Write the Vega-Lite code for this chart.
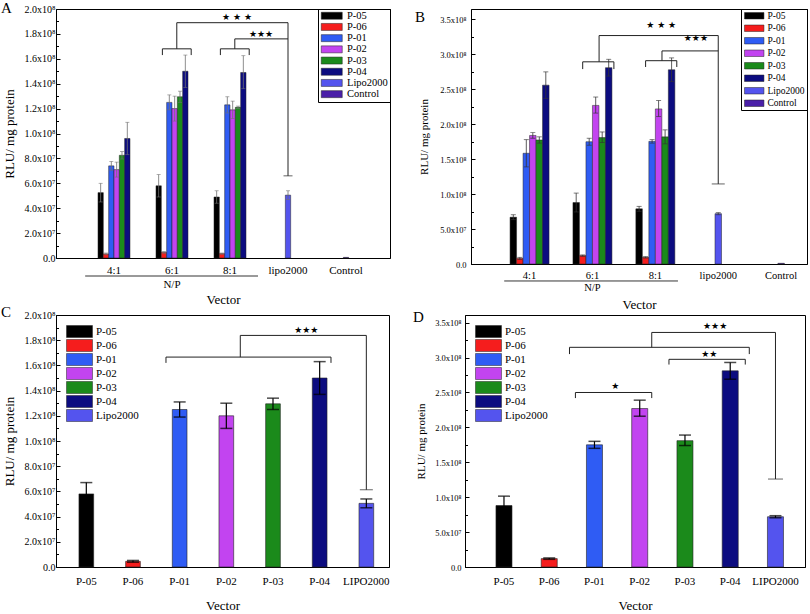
{
"$schema": "https://vega.github.io/schema/vega-lite/v6.json",
"padding": {"left": 0, "top": 0, "right": 0, "bottom": 0},
"background": "white",
"config": {
  "font": "Liberation Serif",
  "view": {"stroke": "#000", "strokeWidth": 1},
  "axis": {"labelFont": "Liberation Serif", "titleFont": "Liberation Serif", "labelColor": "#000", "titleColor": "#000", "domainColor": "#000", "tickColor": "#000", "titleFontWeight": "normal", "grid": false, "labelFontSize": 10, "titleFontSize": 13, "labelOverlap": false},
  "legend": {"labelFont": "Liberation Serif", "labelFontSize": 11, "labelColor": "#000"},
  "title": {"font": "Liberation Serif", "fontWeight": "normal", "fontSize": 15, "color": "#000"}
},
"datasets": {
  "A_np": [
    {"group":"4:1","series":"P-05","value":5.25e7,"lo":4.5e7,"hi":6.0e7},
    {"group":"4:1","series":"P-06","value":3.3e6,"lo":2.6e6,"hi":4.0e6},
    {"group":"4:1","series":"P-01","value":7.4e7,"lo":7.05e7,"hi":7.75e7},
    {"group":"4:1","series":"P-02","value":7.1e7,"lo":6.5e7,"hi":7.7e7},
    {"group":"4:1","series":"P-03","value":8.25e7,"lo":7.95e7,"hi":8.55e7},
    {"group":"4:1","series":"P-04","value":9.6e7,"lo":8.3e7,"hi":1.09e8},
    {"group":"6:1","series":"P-05","value":5.8e7,"lo":4.9e7,"hi":6.7e7},
    {"group":"6:1","series":"P-06","value":4.5e6,"lo":3.8e6,"hi":5.2e6},
    {"group":"6:1","series":"P-01","value":1.25e8,"lo":1.19e8,"hi":1.31e8},
    {"group":"6:1","series":"P-02","value":1.2e8,"lo":1.1e8,"hi":1.3e8},
    {"group":"6:1","series":"P-03","value":1.295e8,"lo":1.25e8,"hi":1.34e8},
    {"group":"6:1","series":"P-04","value":1.5e8,"lo":1.37e8,"hi":1.63e8},
    {"group":"8:1","series":"P-05","value":4.9e7,"lo":4.4e7,"hi":5.4e7},
    {"group":"8:1","series":"P-06","value":3.5e6,"lo":3.0e6,"hi":4.0e6},
    {"group":"8:1","series":"P-01","value":1.23e8,"lo":1.165e8,"hi":1.295e8},
    {"group":"8:1","series":"P-02","value":1.19e8,"lo":1.12e8,"hi":1.26e8},
    {"group":"8:1","series":"P-03","value":1.21e8,"lo":1.2e8,"hi":1.22e8},
    {"group":"8:1","series":"P-04","value":1.49e8,"lo":1.36e8,"hi":1.625e8}
  ],
  "A_ref": [
    {"group":"lipo2000","series":"Lipo2000","value":5.05e7,"lo":4.7e7,"hi":5.4e7},
    {"group":"Control","series":"Control","value":5e5}
  ],
  "B_np": [
    {"group":"4:1","series":"P-05","value":6.7e7,"lo":6.35e7,"hi":7.05e7},
    {"group":"4:1","series":"P-06","value":8e6,"lo":6.5e6,"hi":9.5e6},
    {"group":"4:1","series":"P-01","value":1.585e8,"lo":1.39e8,"hi":1.78e8},
    {"group":"4:1","series":"P-02","value":1.84e8,"lo":1.8e8,"hi":1.88e8},
    {"group":"4:1","series":"P-03","value":1.775e8,"lo":1.73e8,"hi":1.82e8},
    {"group":"4:1","series":"P-04","value":2.56e8,"lo":2.37e8,"hi":2.75e8},
    {"group":"6:1","series":"P-05","value":8.8e7,"lo":7.45e7,"hi":1.015e8},
    {"group":"6:1","series":"P-06","value":1.2e7,"lo":1.1e7,"hi":1.3e7},
    {"group":"6:1","series":"P-01","value":1.75e8,"lo":1.7e8,"hi":1.8e8},
    {"group":"6:1","series":"P-02","value":2.27e8,"lo":2.16e8,"hi":2.39e8},
    {"group":"6:1","series":"P-03","value":1.81e8,"lo":1.74e8,"hi":1.89e8},
    {"group":"6:1","series":"P-04","value":2.81e8,"lo":2.69e8,"hi":2.93e8},
    {"group":"8:1","series":"P-05","value":7.9e7,"lo":7.55e7,"hi":8.25e7},
    {"group":"8:1","series":"P-06","value":9.5e6,"lo":8.5e6,"hi":1.05e7},
    {"group":"8:1","series":"P-01","value":1.755e8,"lo":1.73e8,"hi":1.78e8},
    {"group":"8:1","series":"P-02","value":2.22e8,"lo":2.11e8,"hi":2.34e8},
    {"group":"8:1","series":"P-03","value":1.82e8,"lo":1.72e8,"hi":1.92e8},
    {"group":"8:1","series":"P-04","value":2.78e8,"lo":2.61e8,"hi":2.95e8}
  ],
  "B_ref": [
    {"group":"lipo2000","series":"Lipo2000","value":7.2e7,"lo":7.05e7,"hi":7.35e7},
    {"group":"Control","series":"Control","value":1e6}
  ],
  "C": [
    {"series":"P-05","value":5.8e7,"lo":4.9e7,"hi":6.7e7},
    {"series":"P-06","value":4.5e6,"lo":3.8e6,"hi":5.2e6},
    {"series":"P-01","value":1.25e8,"lo":1.19e8,"hi":1.31e8},
    {"series":"P-02","value":1.2e8,"lo":1.1e8,"hi":1.3e8},
    {"series":"P-03","value":1.295e8,"lo":1.25e8,"hi":1.34e8},
    {"series":"P-04","value":1.5e8,"lo":1.37e8,"hi":1.63e8},
    {"series":"Lipo2000","value":5.05e7,"lo":4.7e7,"hi":5.4e7}
  ],
  "D": [
    {"series":"P-05","value":8.8e7,"lo":7.45e7,"hi":1.015e8},
    {"series":"P-06","value":1.2e7,"lo":1.1e7,"hi":1.3e7},
    {"series":"P-01","value":1.75e8,"lo":1.7e8,"hi":1.8e8},
    {"series":"P-02","value":2.27e8,"lo":2.16e8,"hi":2.39e8},
    {"series":"P-03","value":1.81e8,"lo":1.74e8,"hi":1.89e8},
    {"series":"P-04","value":2.81e8,"lo":2.69e8,"hi":2.93e8},
    {"series":"Lipo2000","value":7.2e7,"lo":7.05e7,"hi":7.35e7}
  ]
},
"resolve": {"scale": {"color": "independent", "xOffset": "independent", "x": "independent", "y": "independent"}, "legend": {"color": "independent"}},
"spacing": -8,
"vconcat": [
{
  "spacing": 23,
  "resolve": {"scale": {"color": "independent", "xOffset": "independent", "x": "independent", "y": "independent"}, "legend": {"color": "independent"}},
  "hconcat": [
  {
    "width": 334, "height": 249,
    "title": {"text": "A", "anchor": "start", "frame": "group", "baseline": "top", "offset": -12, "dx": -55},
    "layer": [
      {"data": {"name": "A_np"},
       "mark": {"type": "bar", "stroke": "#222", "strokeWidth": 0.5},
       "encoding": {
         "x": {"field": "group", "type": "nominal", "title": "Vector",
               "scale": {"domain": ["4:1","6:1","8:1","lipo2000","Control"], "paddingInner": 0.448, "paddingOuter": 0.603, "align": 0.6},
               "axis": {"labelAngle": 0, "ticks": false, "labelPadding": 6, "labelFont": "Liberation Serif", "labelFontSize": 11, "titlePadding": 18, "labelOverlap": false,
                        "encode": {"labels": {"update": {"dy": {"signal": "datum.value == 'lipo2000' || datum.value == 'Control' ? 7 : 0"}}}}}},
         "xOffset": {"field": "series", "type": "nominal", "scale": {"domain": ["P-05","P-06","P-01","P-02","P-03","P-04"], "paddingInner": 0, "paddingOuter": 0}},
         "y": {"field": "value", "type": "quantitative", "title": "RLU/ mg protein",
               "scale": {"domain": [0, 2e8], "nice": false},
               "axis": {"values": [0,1e7,2e7,3e7,4e7,5e7,6e7,7e7,8e7,9e7,1e8,1.1e8,1.2e8,1.3e8,1.4e8,1.5e8,1.6e8,1.7e8,1.8e8,1.9e8,2e8], "tickCount": 60,
                        "labelExpr": "(datum.value/1e7) % 2 != 0 ? '' : datum.value == 0 ? '0.0' : datum.value < 1e8 ? format(datum.value/1e7, '.1f') + 'x10⁷' : format(datum.value/1e8, '.1f') + 'x10⁸'",
                        "tickSize": {"condition": {"test": "(datum.value/1e7) % 2 == 0", "value": -4}, "value": -2.5},
                        "labelOverlap": false, "labelFont": "Liberation Serif", "labelPadding": 5, "titlePadding": 8}},
         "color": {"field": "series", "type": "nominal",
                   "scale": {"domain": ["P-05","P-06","P-01","P-02","P-03","P-04","Lipo2000","Control"], "range": ["#000000","#f51d1d","#2f5cf4","#c244f0","#1b8a1b","#0c0c80","#5454ee","#4a1fa8"]},
                   "legend": {"title": null, "orient": "top-right", "offset": 0, "strokeColor": "#000", "padding": 1.5, "symbolType": "M-1,-1H5V1H-1Z", "symbolSize": 49, "rowPadding": 0.2, "labelOffset": 17, "labelFont": "Liberation Serif", "labelFontSize": 10.5, "symbolStrokeColor": "#222", "symbolStrokeWidth": 0.5}}
       }},
      {"data": {"name": "A_ref"},
       "mark": {"type": "bar", "stroke": "#222", "strokeWidth": 0.5, "width": {"band": 0.166}},
       "encoding": {"x": {"field": "group", "type": "nominal"}, "y": {"field": "value", "type": "quantitative"}, "color": {"field": "series", "type": "nominal"}}},
      {"data": {"name": "A_np"}, "mark": {"type": "rule", "color": "#707070", "strokeWidth": 0.8},
       "encoding": {"x": {"field": "group", "type": "nominal"}, "xOffset": {"field": "series", "type": "nominal"}, "y": {"field": "lo", "type": "quantitative"}, "y2": {"field": "hi"}}},
      {"data": {"name": "A_np"}, "mark": {"type": "tick", "color": "#707070", "size": 4, "thickness": 0.8},
       "encoding": {"x": {"field": "group", "type": "nominal"}, "xOffset": {"field": "series", "type": "nominal"}, "y": {"field": "hi", "type": "quantitative"}}},
      {"data": {"name": "A_np"}, "mark": {"type": "tick", "color": "#707070", "size": 4, "thickness": 0.8},
       "encoding": {"x": {"field": "group", "type": "nominal"}, "xOffset": {"field": "series", "type": "nominal"}, "y": {"field": "lo", "type": "quantitative"}}},
      {"data": {"name": "A_ref"}, "transform": [{"filter": "isValid(datum.hi)"}], "mark": {"type": "rule", "color": "#707070", "strokeWidth": 0.8},
       "encoding": {"x": {"field": "group", "type": "nominal"}, "y": {"field": "lo", "type": "quantitative"}, "y2": {"field": "hi"}}},
      {"data": {"name": "A_ref"}, "transform": [{"filter": "isValid(datum.hi)"}], "mark": {"type": "tick", "color": "#707070", "size": 4, "thickness": 0.8},
       "encoding": {"x": {"field": "group", "type": "nominal"}, "y": {"field": "hi", "type": "quantitative"}}},
      {"data": {"name": "A_ref"}, "transform": [{"filter": "isValid(datum.hi)"}], "mark": {"type": "tick", "color": "#707070", "size": 4, "thickness": 0.8},
       "encoding": {"x": {"field": "group", "type": "nominal"}, "y": {"field": "lo", "type": "quantitative"}}},

      {"data": {"values": [{}]}, "mark": {"type": "rule", "color": "#222", "strokeWidth": 1},
       "encoding": {"x": {"datum": "6:1", "bandPosition": 0.2}, "x2": {"datum": "6:1", "bandPosition": 1.1}, "y": {"datum": 1.68e8}}},
      {"data": {"values": [{}]}, "mark": {"type": "rule", "color": "#222", "strokeWidth": 1},
       "encoding": {"x": {"datum": "6:1", "bandPosition": 0.2}, "y": {"datum": 1.63e8}, "y2": {"datum": 1.68e8}}},
      {"data": {"values": [{}]}, "mark": {"type": "rule", "color": "#222", "strokeWidth": 1},
       "encoding": {"x": {"datum": "6:1", "bandPosition": 1.1}, "y": {"datum": 1.63e8}, "y2": {"datum": 1.68e8}}},
      {"data": {"values": [{}]}, "mark": {"type": "rule", "color": "#222", "strokeWidth": 1},
       "encoding": {"x": {"datum": "6:1", "bandPosition": 0.65}, "y": {"datum": 1.68e8}, "y2": {"datum": 1.89e8}}},
      {"data": {"values": [{}]}, "mark": {"type": "rule", "color": "#222", "strokeWidth": 1},
       "encoding": {"x": {"datum": "6:1", "bandPosition": 0.65}, "x2": {"datum": "lipo2000", "bandPosition": 0.5}, "y": {"datum": 1.89e8}}},
      {"data": {"values": [{}]}, "mark": {"type": "rule", "color": "#222", "strokeWidth": 1},
       "encoding": {"x": {"datum": "8:1", "bandPosition": 0.2}, "x2": {"datum": "8:1", "bandPosition": 1.1}, "y": {"datum": 1.68e8}}},
      {"data": {"values": [{}]}, "mark": {"type": "rule", "color": "#222", "strokeWidth": 1},
       "encoding": {"x": {"datum": "8:1", "bandPosition": 0.2}, "y": {"datum": 1.63e8}, "y2": {"datum": 1.68e8}}},
      {"data": {"values": [{}]}, "mark": {"type": "rule", "color": "#222", "strokeWidth": 1},
       "encoding": {"x": {"datum": "8:1", "bandPosition": 1.1}, "y": {"datum": 1.63e8}, "y2": {"datum": 1.68e8}}},
      {"data": {"values": [{}]}, "mark": {"type": "rule", "color": "#222", "strokeWidth": 1},
       "encoding": {"x": {"datum": "8:1", "bandPosition": 0.65}, "y": {"datum": 1.68e8}, "y2": {"datum": 1.76e8}}},
      {"data": {"values": [{}]}, "mark": {"type": "rule", "color": "#222", "strokeWidth": 1},
       "encoding": {"x": {"datum": "8:1", "bandPosition": 0.65}, "x2": {"datum": "lipo2000", "bandPosition": 0.5}, "y": {"datum": 1.76e8}}},
      {"data": {"values": [{}]}, "mark": {"type": "rule", "color": "#222", "strokeWidth": 1},
       "encoding": {"x": {"datum": "lipo2000"}, "y": {"datum": 6.6e7}, "y2": {"datum": 1.89e8}}},
      {"data": {"values": [{}]}, "mark": {"type": "tick", "color": "#222", "size": 9, "thickness": 1},
       "encoding": {"x": {"datum": "lipo2000"}, "y": {"datum": 6.6e7}}},
      {"data": {"values": [{}]}, "mark": {"type": "text", "text": "★ ★ ★", "font": "DejaVu Sans", "fontSize": 9, "baseline": "middle"},
       "encoding": {"x": {"datum": "8:1", "bandPosition": 0.72}, "y": {"datum": 1.933e8}}},
      {"data": {"values": [{}]}, "mark": {"type": "text", "text": "★★★", "font": "DejaVu Sans", "fontSize": 9, "baseline": "middle"},
       "encoding": {"x": {"datum": "8:1", "bandPosition": 1.47}, "y": {"datum": 1.8e8}}},
      {"data": {"values": [{}]}, "mark": {"type": "rule", "color": "#000", "strokeWidth": 0.8},
       "encoding": {"x": {"datum": "4:1", "bandPosition": -0.4}, "x2": {"datum": "8:1", "bandPosition": 1.375}, "y": {"datum": -1.446e7}}},
      {"data": {"values": [{}]}, "mark": {"type": "text", "text": "N/P", "font": "Liberation Serif", "fontSize": 11, "baseline": "middle"},
       "encoding": {"x": {"datum": "6:1"}, "y": {"datum": -2.17e7}}}
    ]
  },
  {
    "width": 336, "height": 255,
    "title": {"text": "B", "anchor": "start", "frame": "group", "baseline": "top", "offset": -16, "dx": -56},
    "layer": [
      {"data": {"name": "B_np"},
       "mark": {"type": "bar", "stroke": "#222", "strokeWidth": 0.5},
       "encoding": {
         "x": {"field": "group", "type": "nominal", "title": "Vector",
               "scale": {"domain": ["4:1","6:1","8:1","lipo2000","Control"], "paddingInner": 0.38, "paddingOuter": 0.361, "align": 0.86},
               "axis": {"labelAngle": 0, "ticks": false, "labelPadding": 6, "labelFont": "Liberation Serif", "labelFontSize": 10.5, "titlePadding": 18, "labelOverlap": false,
                        "encode": {"labels": {"update": {"dy": {"signal": "datum.value == 'lipo2000' || datum.value == 'Control' ? 4 : 0"}}}}}},
         "xOffset": {"field": "series", "type": "nominal", "scale": {"domain": ["P-05","P-06","P-01","P-02","P-03","P-04"], "paddingInner": 0, "paddingOuter": 0}},
         "y": {"field": "value", "type": "quantitative", "title": "RLU/ mg protein",
               "scale": {"domain": [0, 3.65e8], "nice": false},
               "axis": {"values": [0,2.5e7,5e7,7.5e7,1e8,1.25e8,1.5e8,1.75e8,2e8,2.25e8,2.5e8,2.75e8,3e8,3.25e8,3.5e8], "tickCount": 60,
                        "labelExpr": "(datum.value/2.5e7) % 2 != 0 ? '' : datum.value == 0 ? '0.0' : datum.value < 1e8 ? format(datum.value/1e7, '.1f') + 'x10⁷' : format(datum.value/1e8, '.1f') + 'x10⁸'",
                        "tickSize": {"condition": {"test": "(datum.value/2.5e7) % 2 == 0", "value": -4}, "value": -2.5},
                        "labelOverlap": false, "labelFont": "Liberation Serif", "labelFontSize": 8.5, "titleFontSize": 11, "labelPadding": 9, "titlePadding": 10}},
         "color": {"field": "series", "type": "nominal",
                   "scale": {"domain": ["P-05","P-06","P-01","P-02","P-03","P-04","Lipo2000","Control"], "range": ["#000000","#f51d1d","#2f5cf4","#c244f0","#1b8a1b","#0c0c80","#5454ee","#4a1fa8"]},
                   "legend": {"title": null, "orient": "top-right", "offset": 0, "strokeColor": "#000", "padding": 2, "symbolType": "M-1,-1H5V1H-1Z", "symbolSize": 42, "rowPadding": 1.5, "labelOffset": 15, "labelFont": "Liberation Serif", "labelFontSize": 9.5, "symbolStrokeColor": "#222", "symbolStrokeWidth": 0.5}}
       }},
      {"data": {"name": "B_ref"},
       "mark": {"type": "bar", "stroke": "#222", "strokeWidth": 0.5, "width": {"band": 0.167}},
       "encoding": {"x": {"field": "group", "type": "nominal"}, "y": {"field": "value", "type": "quantitative"}, "color": {"field": "series", "type": "nominal"}}},
      {"data": {"name": "B_np"}, "mark": {"type": "rule", "color": "#333", "strokeWidth": 0.8},
       "encoding": {"x": {"field": "group", "type": "nominal"}, "xOffset": {"field": "series", "type": "nominal"}, "y": {"field": "lo", "type": "quantitative"}, "y2": {"field": "hi"}}},
      {"data": {"name": "B_np"}, "mark": {"type": "tick", "color": "#333", "size": 5, "thickness": 0.9},
       "encoding": {"x": {"field": "group", "type": "nominal"}, "xOffset": {"field": "series", "type": "nominal"}, "y": {"field": "hi", "type": "quantitative"}}},
      {"data": {"name": "B_np"}, "mark": {"type": "tick", "color": "#333", "size": 5, "thickness": 0.9},
       "encoding": {"x": {"field": "group", "type": "nominal"}, "xOffset": {"field": "series", "type": "nominal"}, "y": {"field": "lo", "type": "quantitative"}}},
      {"data": {"name": "B_ref"}, "transform": [{"filter": "isValid(datum.hi)"}], "mark": {"type": "rule", "color": "#333", "strokeWidth": 0.8},
       "encoding": {"x": {"field": "group", "type": "nominal"}, "y": {"field": "lo", "type": "quantitative"}, "y2": {"field": "hi"}}},
      {"data": {"name": "B_ref"}, "transform": [{"filter": "isValid(datum.hi)"}], "mark": {"type": "tick", "color": "#333", "size": 5, "thickness": 0.9},
       "encoding": {"x": {"field": "group", "type": "nominal"}, "y": {"field": "hi", "type": "quantitative"}}},
      {"data": {"name": "B_ref"}, "transform": [{"filter": "isValid(datum.hi)"}], "mark": {"type": "tick", "color": "#333", "size": 5, "thickness": 0.9},
       "encoding": {"x": {"field": "group", "type": "nominal"}, "y": {"field": "lo", "type": "quantitative"}}},

      {"data": {"values": [{}]}, "mark": {"type": "rule", "color": "#222", "strokeWidth": 1},
       "encoding": {"x": {"datum": "6:1", "bandPosition": 0.25}, "x2": {"datum": "6:1", "bandPosition": 1.05}, "y": {"datum": 2.894e8}}},
      {"data": {"values": [{}]}, "mark": {"type": "rule", "color": "#222", "strokeWidth": 1},
       "encoding": {"x": {"datum": "6:1", "bandPosition": 0.25}, "y": {"datum": 2.79e8}, "y2": {"datum": 2.894e8}}},
      {"data": {"values": [{}]}, "mark": {"type": "rule", "color": "#222", "strokeWidth": 1},
       "encoding": {"x": {"datum": "6:1", "bandPosition": 1.05}, "y": {"datum": 2.79e8}, "y2": {"datum": 2.894e8}}},
      {"data": {"values": [{}]}, "mark": {"type": "rule", "color": "#222", "strokeWidth": 1},
       "encoding": {"x": {"datum": "6:1", "bandPosition": 0.67}, "y": {"datum": 2.894e8}, "y2": {"datum": 3.27e8}}},
      {"data": {"values": [{}]}, "mark": {"type": "rule", "color": "#222", "strokeWidth": 1},
       "encoding": {"x": {"datum": "6:1", "bandPosition": 0.67}, "x2": {"datum": "lipo2000", "bandPosition": 0.5}, "y": {"datum": 3.27e8}}},
      {"data": {"values": [{}]}, "mark": {"type": "rule", "color": "#222", "strokeWidth": 1},
       "encoding": {"x": {"datum": "8:1", "bandPosition": 0.25}, "x2": {"datum": "8:1", "bandPosition": 1.05}, "y": {"datum": 2.91e8}}},
      {"data": {"values": [{}]}, "mark": {"type": "rule", "color": "#222", "strokeWidth": 1},
       "encoding": {"x": {"datum": "8:1", "bandPosition": 0.25}, "y": {"datum": 2.82e8}, "y2": {"datum": 2.91e8}}},
      {"data": {"values": [{}]}, "mark": {"type": "rule", "color": "#222", "strokeWidth": 1},
       "encoding": {"x": {"datum": "8:1", "bandPosition": 1.05}, "y": {"datum": 2.82e8}, "y2": {"datum": 2.91e8}}},
      {"data": {"values": [{}]}, "mark": {"type": "rule", "color": "#222", "strokeWidth": 1},
       "encoding": {"x": {"datum": "8:1", "bandPosition": 0.67}, "y": {"datum": 2.91e8}, "y2": {"datum": 3.05e8}}},
      {"data": {"values": [{}]}, "mark": {"type": "rule", "color": "#222", "strokeWidth": 1},
       "encoding": {"x": {"datum": "8:1", "bandPosition": 0.67}, "x2": {"datum": "lipo2000", "bandPosition": 0.5}, "y": {"datum": 3.05e8}}},
      {"data": {"values": [{}]}, "mark": {"type": "rule", "color": "#222", "strokeWidth": 1},
       "encoding": {"x": {"datum": "lipo2000"}, "y": {"datum": 1.146e8}, "y2": {"datum": 3.27e8}}},
      {"data": {"values": [{}]}, "mark": {"type": "tick", "color": "#222", "size": 13, "thickness": 1},
       "encoding": {"x": {"datum": "lipo2000"}, "y": {"datum": 1.146e8}}},
      {"data": {"values": [{}]}, "mark": {"type": "text", "text": "★ ★ ★", "font": "DejaVu Sans", "fontSize": 9, "baseline": "middle"},
       "encoding": {"x": {"datum": "8:1", "bandPosition": 0.65}, "y": {"datum": 3.425e8}}},
      {"data": {"values": [{}]}, "mark": {"type": "text", "text": "★★★", "font": "DejaVu Sans", "fontSize": 9, "baseline": "middle"},
       "encoding": {"x": {"datum": "8:1", "bandPosition": 1.54}, "y": {"datum": 3.235e8}}},
      {"data": {"values": [{}]}, "mark": {"type": "rule", "color": "#000", "strokeWidth": 0.8},
       "encoding": {"x": {"datum": "4:1", "bandPosition": -0.15}, "x2": {"datum": "8:1", "bandPosition": 1.08}, "y": {"datum": -2.43e7}}},
      {"data": {"values": [{}]}, "mark": {"type": "text", "text": "N/P", "font": "Liberation Serif", "fontSize": 10.5, "baseline": "middle"},
       "encoding": {"x": {"datum": "6:1"}, "y": {"datum": -3.44e7}}}
    ]
  }
  ]
},
{
  "spacing": 22,
  "resolve": {"scale": {"color": "independent", "xOffset": "independent", "x": "independent", "y": "independent"}, "legend": {"color": "independent"}},
  "hconcat": [
  {
    "width": 333, "height": 252,
    "title": {"text": "C", "anchor": "start", "frame": "group", "baseline": "top", "offset": -10, "dx": -55},
    "layer": [
      {"data": {"name": "C"},
       "mark": {"type": "bar", "stroke": "#222", "strokeWidth": 0.6},
       "encoding": {
         "x": {"field": "series", "type": "nominal", "title": "Vector",
               "scale": {"domain": ["P-05","P-06","P-01","P-02","P-03","P-04","Lipo2000"], "paddingInner": 0.685, "paddingOuter": 0.41, "align": 0.6},
               "axis": {"labelAngle": 0, "ticks": false, "labelPadding": 8, "labelFont": "Liberation Serif", "labelFontSize": 11, "titlePadding": 13, "labelOverlap": false,
                        "labelExpr": "datum.value == 'Lipo2000' ? 'LIPO2000' : datum.value"}},
         "y": {"field": "value", "type": "quantitative", "title": "RLU/ mg protein",
               "scale": {"domain": [0, 2e8], "nice": false},
               "axis": {"values": [0,1e7,2e7,3e7,4e7,5e7,6e7,7e7,8e7,9e7,1e8,1.1e8,1.2e8,1.3e8,1.4e8,1.5e8,1.6e8,1.7e8,1.8e8,1.9e8,2e8], "tickCount": 60,
                        "labelExpr": "(datum.value/1e7) % 2 != 0 ? '' : datum.value == 0 ? '0.0' : datum.value < 1e8 ? format(datum.value/1e7, '.1f') + 'x10⁷' : format(datum.value/1e8, '.1f') + 'x10⁸'",
                        "tickSize": {"condition": {"test": "(datum.value/1e7) % 2 == 0", "value": -4}, "value": -2.5},
                        "labelOverlap": false, "labelFont": "Liberation Serif", "labelPadding": 5, "titlePadding": 8}},
         "color": {"field": "series", "type": "nominal",
                   "scale": {"domain": ["P-05","P-06","P-01","P-02","P-03","P-04","Lipo2000"], "range": ["#000000","#f51d1d","#2f5cf4","#c244f0","#1b8a1b","#0c0c80","#5454ee"]},
                   "legend": {"title": null, "orient": "top-left", "offset": 8, "padding": 2, "symbolType": "M-1,-1H3.333V1H-1Z", "symbolSize": 144, "rowPadding": -2.6, "labelOffset": 17, "labelFont": "Liberation Serif", "labelFontSize": 11, "symbolStrokeColor": "#222", "symbolStrokeWidth": 0.5}}
       }},
      {"data": {"name": "C"}, "mark": {"type": "rule", "color": "#000", "strokeWidth": 1.2},
       "encoding": {"x": {"field": "series", "type": "nominal"}, "y": {"field": "lo", "type": "quantitative"}, "y2": {"field": "hi"}}},
      {"data": {"name": "C"}, "mark": {"type": "tick", "color": "#000", "size": 12, "thickness": 1.5},
       "encoding": {"x": {"field": "series", "type": "nominal"}, "y": {"field": "hi", "type": "quantitative"}}},
      {"data": {"name": "C"}, "mark": {"type": "tick", "color": "#000", "size": 12, "thickness": 1.5},
       "encoding": {"x": {"field": "series", "type": "nominal"}, "y": {"field": "lo", "type": "quantitative"}}},

      {"data": {"values": [{}]}, "mark": {"type": "rule", "color": "#222", "strokeWidth": 1},
       "encoding": {"x": {"datum": "P-01", "bandPosition": -0.43}, "x2": {"datum": "P-04", "bandPosition": 1.27}, "y": {"datum": 1.666e8}}},
      {"data": {"values": [{}]}, "mark": {"type": "rule", "color": "#222", "strokeWidth": 1},
       "encoding": {"x": {"datum": "P-01", "bandPosition": -0.43}, "y": {"datum": 1.62e8}, "y2": {"datum": 1.666e8}}},
      {"data": {"values": [{}]}, "mark": {"type": "rule", "color": "#222", "strokeWidth": 1},
       "encoding": {"x": {"datum": "P-04", "bandPosition": 1.27}, "y": {"datum": 1.62e8}, "y2": {"datum": 1.666e8}}},
      {"data": {"values": [{}]}, "mark": {"type": "rule", "color": "#222", "strokeWidth": 1},
       "encoding": {"x": {"datum": "P-02", "bandPosition": 1.45}, "y": {"datum": 1.666e8}, "y2": {"datum": 1.838e8}}},
      {"data": {"values": [{}]}, "mark": {"type": "rule", "color": "#222", "strokeWidth": 1},
       "encoding": {"x": {"datum": "P-02", "bandPosition": 1.45}, "x2": {"datum": "Lipo2000", "bandPosition": 0.5}, "y": {"datum": 1.838e8}}},
      {"data": {"values": [{}]}, "mark": {"type": "rule", "color": "#222", "strokeWidth": 1},
       "encoding": {"x": {"datum": "Lipo2000"}, "y": {"datum": 6.13e7}, "y2": {"datum": 1.838e8}}},
      {"data": {"values": [{}]}, "mark": {"type": "tick", "color": "#222", "size": 13, "thickness": 1},
       "encoding": {"x": {"datum": "Lipo2000"}, "y": {"datum": 6.13e7}}},
      {"data": {"values": [{}]}, "mark": {"type": "text", "text": "★★★", "font": "DejaVu Sans", "fontSize": 9, "baseline": "middle"},
       "encoding": {"x": {"datum": "P-04", "bandPosition": -0.41}, "y": {"datum": 1.878e8}}}
    ]
  },
  {
    "width": 340, "height": 252,
    "title": {"text": "D", "anchor": "start", "frame": "group", "baseline": "top", "offset": -10, "dx": -52},
    "layer": [
      {"data": {"name": "D"},
       "mark": {"type": "bar", "stroke": "#222", "strokeWidth": 0.6},
       "encoding": {
         "x": {"field": "series", "type": "nominal", "title": "Vector",
               "scale": {"domain": ["P-05","P-06","P-01","P-02","P-03","P-04","Lipo2000"], "paddingInner": 0.646, "paddingOuter": 0.58, "align": 0.59},
               "axis": {"labelAngle": 0, "ticks": false, "labelPadding": 8, "labelFont": "Liberation Serif", "labelFontSize": 11, "titlePadding": 13, "labelOverlap": false,
                        "labelExpr": "datum.value == 'Lipo2000' ? 'LIPO2000' : datum.value"}},
         "y": {"field": "value", "type": "quantitative", "title": "RLU/ mg protein",
               "scale": {"domain": [0, 3.61e8], "nice": false},
               "axis": {"values": [0,2.5e7,5e7,7.5e7,1e8,1.25e8,1.5e8,1.75e8,2e8,2.25e8,2.5e8,2.75e8,3e8,3.25e8,3.5e8], "tickCount": 60,
                        "labelExpr": "(datum.value/2.5e7) % 2 != 0 ? '' : datum.value == 0 ? '0.0' : datum.value < 1e8 ? format(datum.value/1e7, '.1f') + 'x10⁷' : format(datum.value/1e8, '.1f') + 'x10⁸'",
                        "tickSize": {"condition": {"test": "(datum.value/2.5e7) % 2 == 0", "value": -4}, "value": -2.5},
                        "labelOverlap": false, "labelFont": "Liberation Serif", "labelFontSize": 8.5, "titleFontSize": 11, "labelPadding": 8, "titlePadding": 8}},
         "color": {"field": "series", "type": "nominal",
                   "scale": {"domain": ["P-05","P-06","P-01","P-02","P-03","P-04","Lipo2000"], "range": ["#000000","#f51d1d","#2f5cf4","#c244f0","#1b8a1b","#0c0c80","#5454ee"]},
                   "legend": {"title": null, "orient": "top-left", "offset": 8, "padding": 2, "symbolType": "M-1,-1H3.333V1H-1Z", "symbolSize": 144, "rowPadding": -2.6, "labelOffset": 17, "labelFont": "Liberation Serif", "labelFontSize": 11, "symbolStrokeColor": "#222", "symbolStrokeWidth": 0.5}}
       }},
      {"data": {"name": "D"}, "mark": {"type": "rule", "color": "#000", "strokeWidth": 1.2},
       "encoding": {"x": {"field": "series", "type": "nominal"}, "y": {"field": "lo", "type": "quantitative"}, "y2": {"field": "hi"}}},
      {"data": {"name": "D"}, "mark": {"type": "tick", "color": "#000", "size": 12, "thickness": 1.5},
       "encoding": {"x": {"field": "series", "type": "nominal"}, "y": {"field": "hi", "type": "quantitative"}}},
      {"data": {"name": "D"}, "mark": {"type": "tick", "color": "#000", "size": 12, "thickness": 1.5},
       "encoding": {"x": {"field": "series", "type": "nominal"}, "y": {"field": "lo", "type": "quantitative"}}},

      {"data": {"values": [{}]}, "mark": {"type": "rule", "color": "#222", "strokeWidth": 1},
       "encoding": {"x": {"datum": "P-01", "bandPosition": -1.06}, "x2": {"datum": "P-04", "bandPosition": 1.69}, "y": {"datum": 3.147e8}}},
      {"data": {"values": [{}]}, "mark": {"type": "rule", "color": "#222", "strokeWidth": 1},
       "encoding": {"x": {"datum": "P-01", "bandPosition": -1.06}, "y": {"datum": 3.05e8}, "y2": {"datum": 3.147e8}}},
      {"data": {"values": [{}]}, "mark": {"type": "rule", "color": "#222", "strokeWidth": 1},
       "encoding": {"x": {"datum": "P-04", "bandPosition": 1.69}, "y": {"datum": 3.05e8}, "y2": {"datum": 3.147e8}}},
      {"data": {"values": [{}]}, "mark": {"type": "rule", "color": "#222", "strokeWidth": 1},
       "encoding": {"x": {"datum": "P-02", "bandPosition": 1.25}, "y": {"datum": 3.147e8}, "y2": {"datum": 3.36e8}}},
      {"data": {"values": [{}]}, "mark": {"type": "rule", "color": "#222", "strokeWidth": 1},
       "encoding": {"x": {"datum": "P-02", "bandPosition": 1.25}, "x2": {"datum": "Lipo2000", "bandPosition": 0.5}, "y": {"datum": 3.36e8}}},
      {"data": {"values": [{}]}, "mark": {"type": "rule", "color": "#222", "strokeWidth": 1},
       "encoding": {"x": {"datum": "Lipo2000"}, "y": {"datum": 1.26e8}, "y2": {"datum": 3.36e8}}},
      {"data": {"values": [{}]}, "mark": {"type": "tick", "color": "#222", "size": 15, "thickness": 1},
       "encoding": {"x": {"datum": "Lipo2000"}, "y": {"datum": 1.26e8}}},
      {"data": {"values": [{}]}, "mark": {"type": "rule", "color": "#222", "strokeWidth": 1},
       "encoding": {"x": {"datum": "P-03", "bandPosition": -0.5}, "x2": {"datum": "P-04", "bandPosition": 1.44}, "y": {"datum": 2.975e8}}},
      {"data": {"values": [{}]}, "mark": {"type": "rule", "color": "#222", "strokeWidth": 1},
       "encoding": {"x": {"datum": "P-03", "bandPosition": -0.5}, "y": {"datum": 2.9e8}, "y2": {"datum": 2.975e8}}},
      {"data": {"values": [{}]}, "mark": {"type": "rule", "color": "#222", "strokeWidth": 1},
       "encoding": {"x": {"datum": "P-04", "bandPosition": 1.44}, "y": {"datum": 2.9e8}, "y2": {"datum": 2.975e8}}},
      {"data": {"values": [{}]}, "mark": {"type": "rule", "color": "#222", "strokeWidth": 1},
       "encoding": {"x": {"datum": "P-01", "bandPosition": -0.69}, "x2": {"datum": "P-02", "bandPosition": 1.25}, "y": {"datum": 2.5e8}}},
      {"data": {"values": [{}]}, "mark": {"type": "rule", "color": "#222", "strokeWidth": 1},
       "encoding": {"x": {"datum": "P-01", "bandPosition": -0.69}, "y": {"datum": 2.42e8}, "y2": {"datum": 2.5e8}}},
      {"data": {"values": [{}]}, "mark": {"type": "rule", "color": "#222", "strokeWidth": 1},
       "encoding": {"x": {"datum": "P-02", "bandPosition": 1.25}, "y": {"datum": 2.42e8}, "y2": {"datum": 2.5e8}}},
      {"data": {"values": [{}]}, "mark": {"type": "text", "text": "★★★", "font": "DejaVu Sans", "fontSize": 9, "baseline": "middle"},
       "encoding": {"x": {"datum": "P-04", "bandPosition": -0.44}, "y": {"datum": 3.45e8}}},
      {"data": {"values": [{}]}, "mark": {"type": "text", "text": "★★", "font": "DejaVu Sans", "fontSize": 9, "baseline": "middle"},
       "encoding": {"x": {"datum": "P-04", "bandPosition": -0.81}, "y": {"datum": 3.05e8}}},
      {"data": {"values": [{}]}, "mark": {"type": "text", "text": "★", "font": "DejaVu Sans", "fontSize": 9, "baseline": "middle"},
       "encoding": {"x": {"datum": "P-01", "bandPosition": 1.8}, "y": {"datum": 2.59e8}}}
    ]
  }
  ]
}
]
}
